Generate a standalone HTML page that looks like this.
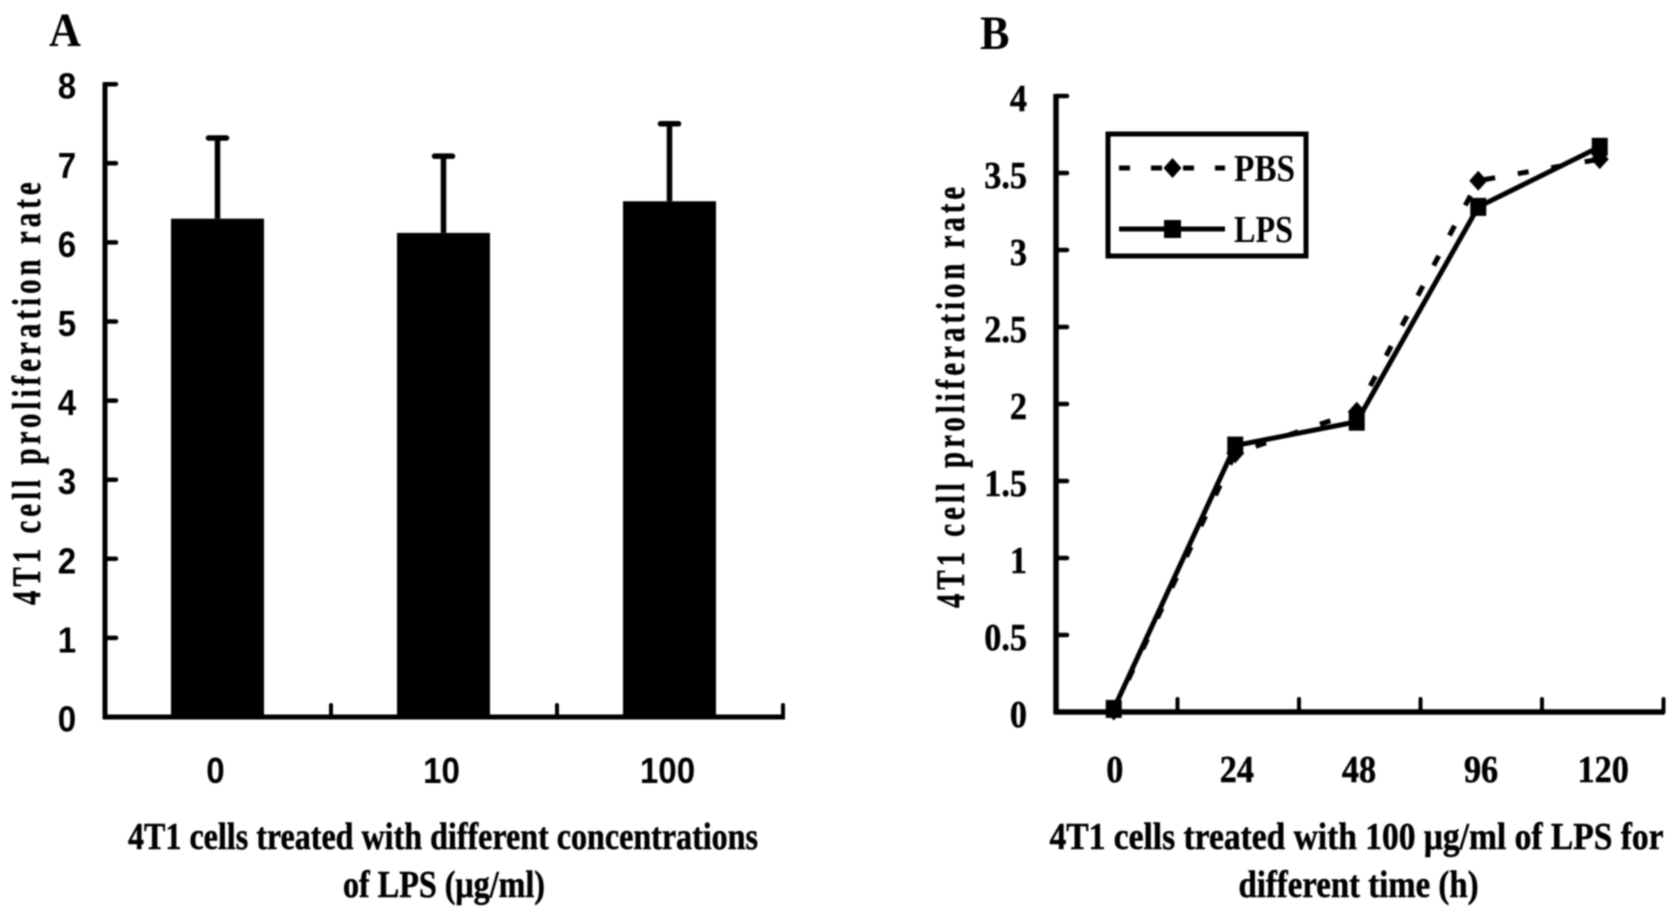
<!DOCTYPE html>
<html lang="en">
<head>
<meta charset="utf-8">
<title>4T1 cell proliferation rate</title>
<style>
  html, body { margin: 0; padding: 0; background: #fff; }
  body { width: 1677px; height: 920px; overflow: hidden; }
  svg { display: block; filter: blur(0.7px); }
  .sans { font-family: "Liberation Sans", sans-serif; font-weight: 700; }
  .serif { font-family: "Liberation Serif", serif; font-weight: 700; }
  .heavy { stroke: #000; stroke-width: 0.5px; }
</style>
</head>
<body>
<svg id="figure" xmlns="http://www.w3.org/2000/svg" width="1677" height="920" viewBox="0 0 1677 920">
  <rect x="0" y="0" width="1677" height="920" fill="#fff"/>

  <g id="panel-a">
    <text class="serif" transform="translate(49,46) scale(0.92,1)" font-size="48">A</text>
    <text class="serif heavy" transform="translate(40,605) rotate(-90) scale(0.72,1)" font-size="40" textLength="587" lengthAdjust="spacing">4T1 cell proliferation rate</text>
    <text class="serif heavy" x="128" y="849" font-size="38" textLength="630" lengthAdjust="spacingAndGlyphs">4T1 cells treated with different concentrations</text>
    <text class="serif heavy" x="343" y="897" font-size="38" textLength="202" lengthAdjust="spacingAndGlyphs">of LPS (μg/ml)</text>
  </g>

  <g id="panel-b">
    <text class="serif" transform="translate(980,49) scale(0.92,1)" font-size="48">B</text>
    <text class="serif heavy" transform="translate(964,608) rotate(-90) scale(0.72,1)" font-size="40" textLength="585" lengthAdjust="spacing">4T1 cell proliferation rate</text>
    <text class="serif heavy" x="1049.5" y="849" font-size="38" textLength="614" lengthAdjust="spacingAndGlyphs">4T1 cells treated with 100 μg/ml of LPS for</text>
    <text class="serif heavy" x="1238.5" y="897" font-size="38" textLength="240" lengthAdjust="spacingAndGlyphs">different time (h)</text>
  </g>

  <g id="legend">
    <rect x="1108" y="134" width="198" height="122" fill="#fff" stroke="#000" stroke-width="5"/>
    <g>
      <line x1="1119" y1="168" x2="1225" y2="168" stroke="#000" stroke-width="5" stroke-dasharray="11 21"/>
      <path d="M1172.5 158l9 10l-9 10l-9 -10z" fill="#000"/>
      <text class="serif" x="1234" y="181" font-size="38" textLength="61" lengthAdjust="spacingAndGlyphs">PBS</text>
    </g>
    <g>
      <line x1="1119" y1="229" x2="1225" y2="229" stroke="#000" stroke-width="5"/>
      <rect x="1164" y="220" width="17" height="18" fill="#000"/>
      <text class="serif" x="1234" y="242" font-size="38" textLength="59" lengthAdjust="spacingAndGlyphs">LPS</text>
    </g>
  </g>
</svg>

<script>
// Panel A data
const barCategories = ['0', '10', '100'];
const barValues = [6.3, 6.12, 6.52];
const barErrors = [1.02, 0.97, 0.98];
const barYTicks = [0, 1, 2, 3, 4, 5, 6, 7, 8];

// Panel B data
const timeCategories = ['0', '24', '48', '96', '120'];
const pbsValues = [0.01, 1.68, 1.95, 3.45, 3.59];
const lpsValues = [0.02, 1.73, 1.885, 3.28, 3.67];
const lineYTicks = [0, 0.5, 1, 1.5, 2, 2.5, 3, 3.5, 4];

const SVG_NS = 'http://www.w3.org/2000/svg';

function make(tag, parent, props) {
  const el = document.createElementNS(SVG_NS, tag);
  Object.keys(props).forEach(function (k) { el.setAttribute(k, props[k]); });
  parent.appendChild(el);
  return el;
}

/* ---------- Panel A: bar chart ---------- */
const panelA = document.getElementById('panel-a');
const aLeft = 105, aBottom = 717, aUnit = 79.1, aBand = 226;
const aY = function (v) { return aBottom - v * aUnit; };
const aX = function (i) { return aLeft + aBand * (i + 0.5) - 0.5; };
const aBarWidth = 93;

barValues.forEach(function (v, i) {
  const bar = make('rect', panelA, { x: aX(i) - aBarWidth / 2, y: aY(v), width: aBarWidth, height: aBottom - aY(v), fill: '#000' });
  
  

  const top = v + barErrors[i];
  const stem = make('line', panelA, { x1: aX(i), y1: aY(v), x2: aX(i), y2: aY(top), stroke: '#000', 'stroke-width': 5.5 });
  
  

  const cap = make('line', panelA, { x1: aX(i) - 9, y1: aY(top), x2: aX(i) + 9, y2: aY(top), stroke: '#000', 'stroke-width': 5.5, 'stroke-linecap': 'round' });
  
  

  const label = make('text', panelA, { transform: 'translate(' + (aX(i) - 2) + ',783) scale(0.92,1)', 'font-size': 36, 'text-anchor': 'middle', class: 'sans' });
  label.textContent = barCategories[i];
  
  

  const xt = aLeft + aBand * (i + 1);
  const tick = make('line', panelA, { x1: xt, y1: aBottom, x2: xt, y2: aBottom - 12, stroke: '#000', 'stroke-width': 4, 'stroke-linecap': 'round' });
  
  
});

barYTicks.forEach(function (v) {
  const tick = make('line', panelA, { x1: aLeft, y1: aY(v), x2: aLeft + 11, y2: aY(v), stroke: '#000', 'stroke-width': 4.5, 'stroke-linecap': 'round' });
  
  

  const label = make('text', panelA, { transform: 'translate(67,' + (aY(v) + 14.5) + ') scale(0.92,1)', 'font-size': 36, 'text-anchor': 'middle', class: 'sans' });
  label.textContent = String(v);
  
  
});

const aAxisY = make('line', panelA, { x1: aLeft, y1: aY(barYTicks[barYTicks.length - 1]) - 2, x2: aLeft, y2: aBottom + 2, stroke: '#000', 'stroke-width': 5 });



const aAxisX = make('line', panelA, { x1: aLeft - 2, y1: aBottom, x2: aLeft + aBand * barCategories.length + 2, y2: aBottom, stroke: '#000', 'stroke-width': 5 });



/* ---------- Panel B: line chart ---------- */
const panelB = document.getElementById('panel-b');
const bLeft = 1056, bBottom = 712, bUnit = 154, bBand = 121.5;
const bY = function (v) { return bBottom - v * bUnit; };
const bX = function (i) { return bLeft + bBand * (i + 0.5) - 3; };

lineYTicks.forEach(function (v) {
  const tick = make('line', panelB, { x1: bLeft, y1: bY(v), x2: bLeft + 11, y2: bY(v), stroke: '#000', 'stroke-width': 4.5, 'stroke-linecap': 'round' });
  
  

  const label = make('text', panelB, { transform: 'translate(1027,' + (bY(v) + 15) + ') scale(0.9,1)', 'font-size': 38, 'text-anchor': 'end', class: 'serif heavy' });
  label.textContent = String(v);
  
  
});

timeCategories.forEach(function (c, i) {
  const xt = bLeft + bBand * (i + 1);
  const tick = make('line', panelB, { x1: xt, y1: bBottom, x2: xt, y2: bBottom - 13, stroke: '#000', 'stroke-width': 4, 'stroke-linecap': 'round' });
  
  

  const label = make('text', panelB, { transform: 'translate(' + (bX(i) + 1 + i * 0.6) + ',782) scale(0.9,1)', 'font-size': 38, 'text-anchor': 'middle', class: 'serif heavy' });
  label.textContent = c;
  
  
});

const bAxisY = make('line', panelB, { x1: bLeft, y1: bY(lineYTicks[lineYTicks.length - 1]) - 2, x2: bLeft, y2: bBottom + 2, stroke: '#000', 'stroke-width': 5.5 });



const bAxisX = make('line', panelB, { x1: bLeft - 2, y1: bBottom, x2: bLeft + bBand * timeCategories.length + 1, y2: bBottom, stroke: '#000', 'stroke-width': 5.5 });



function points(values) {
  return values.map(function (v, i) { return bX(i) + ',' + bY(v); }).join(' ');
}

const pbsLine = make('polyline', panelB, { points: points(pbsValues), fill: 'none', stroke: '#000', 'stroke-width': 5, 'stroke-dasharray': '11 23' });



pbsValues.forEach(function (v, i) {
  const x = bX(i), y = bY(v);
  const d = make('path', panelB, { d: 'M' + x + ' ' + (y - 10) + 'L' + (x + 9) + ' ' + y + 'L' + x + ' ' + (y + 10) + 'L' + (x - 9) + ' ' + y + 'Z', fill: '#000' });
  
  
});

const lpsLine = make('polyline', panelB, { points: points(lpsValues), fill: 'none', stroke: '#000', 'stroke-width': 5 });



lpsValues.forEach(function (v, i) {
  const s = make('rect', panelB, { x: bX(i) - 8, y: bY(v) - 9, width: 16, height: 18, fill: '#000' });
  
  
});
</script>
</body>
</html>
